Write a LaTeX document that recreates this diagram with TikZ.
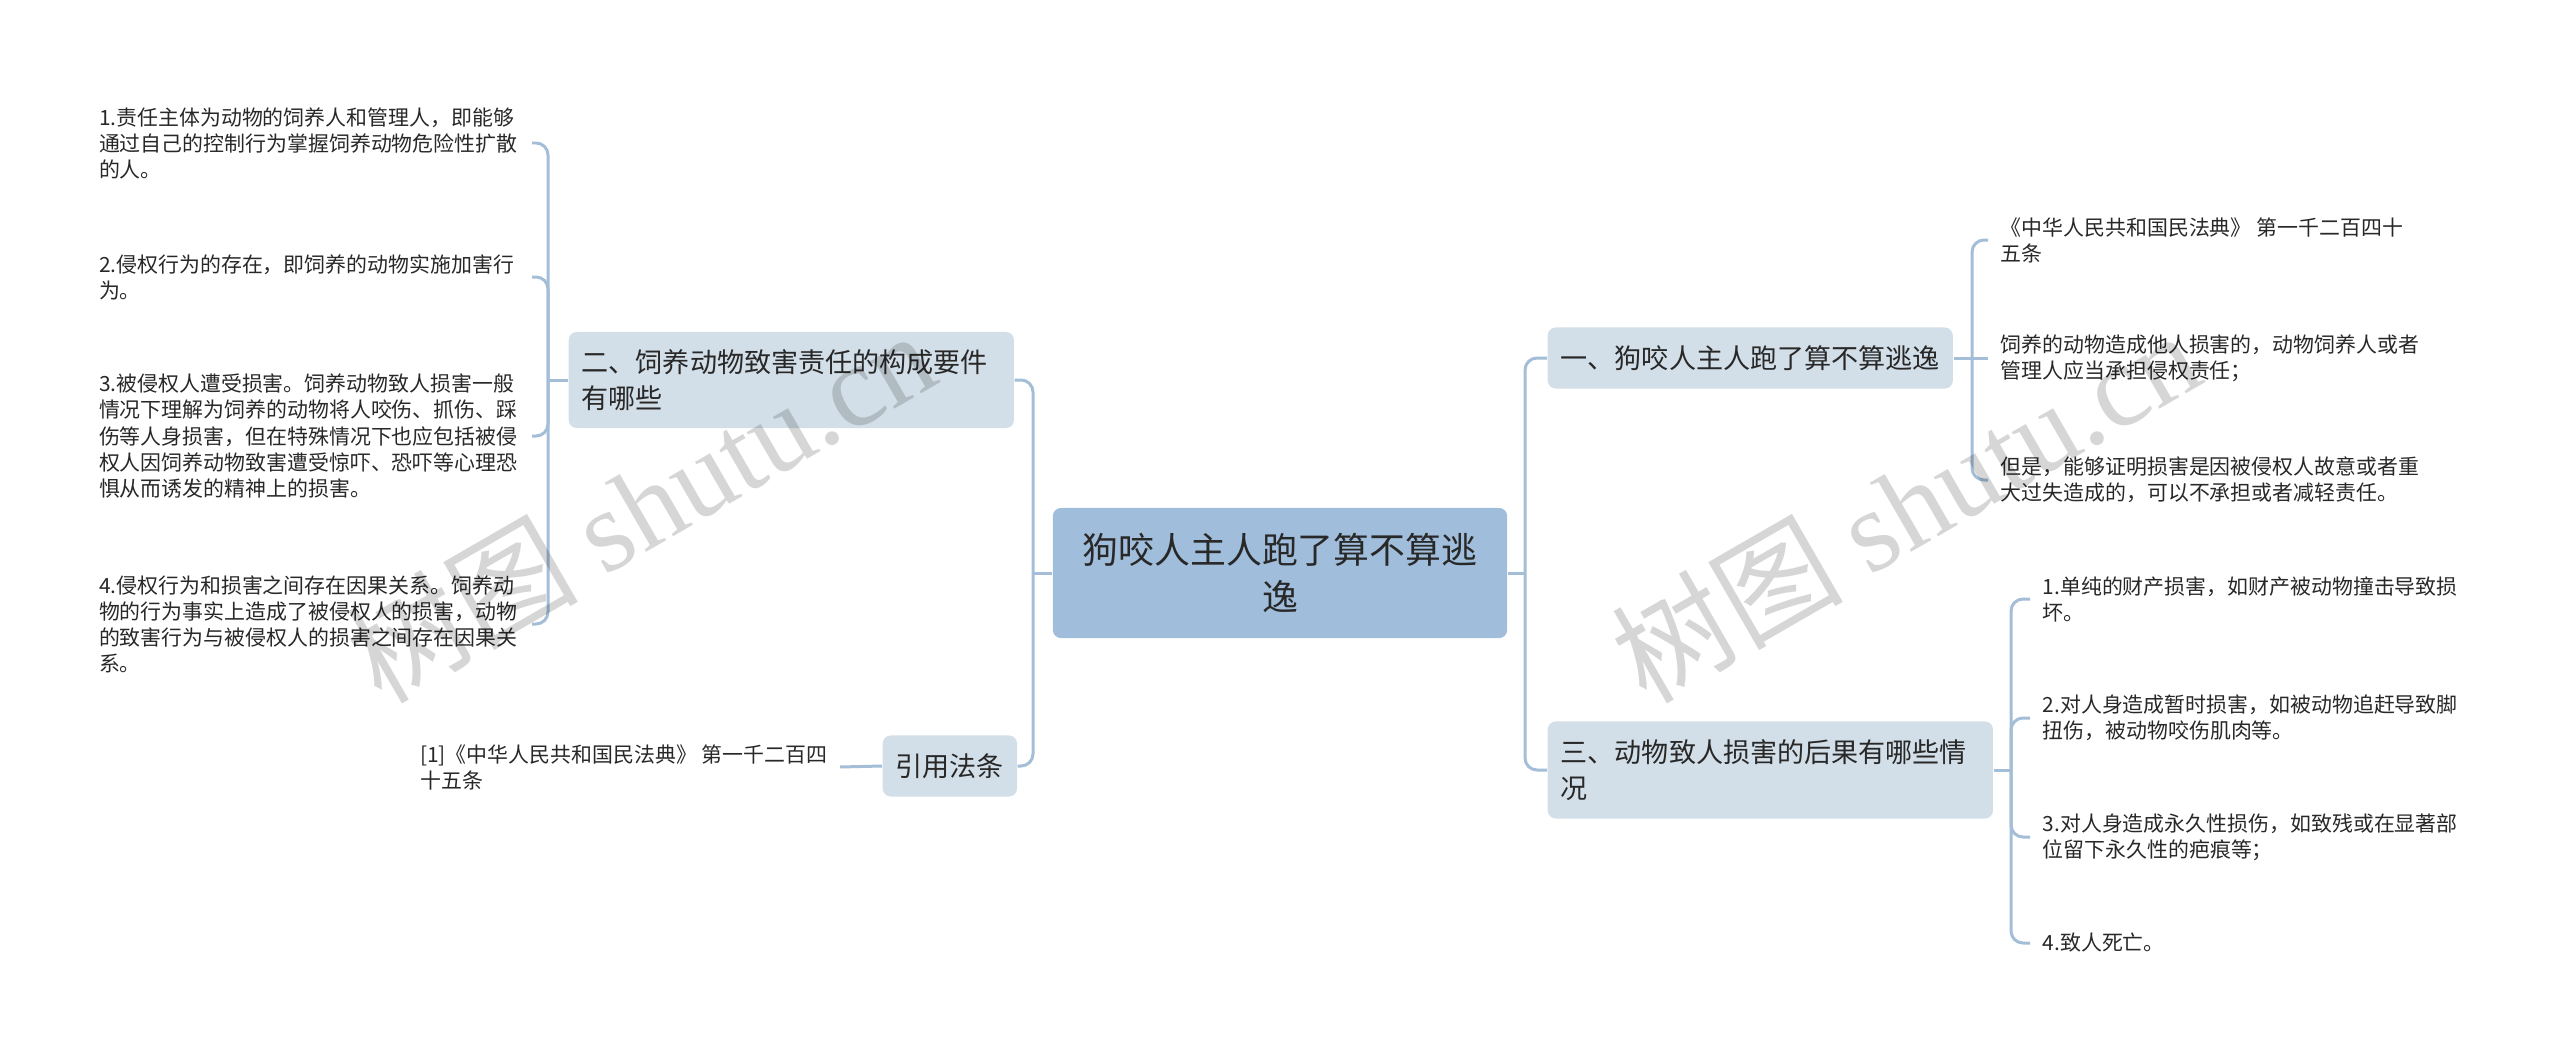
\documentclass[tikz,border=0pt]{standalone}
\usepackage{fontspec}
\setmainfont{Noto Sans CJK SC}
\newfontfamily\wmserif{Liberation Serif}
\definecolor{rootfill}{RGB}{160,190,219}
\definecolor{topicfill}{RGB}{211,223,232}
\definecolor{linkcol}{RGB}{163,190,214}
\definecolor{ink}{RGB}{40,40,40}

\begin{document}
\begin{tikzpicture}[x=0.01cm,y=-0.01cm,
  root/.style={fill=rootfill,rounded corners=0.08cm,text=ink,align=center,minimum width=4.54cm,minimum height=1.30cm,inner sep=0pt,font=\fontsize{10.2}{13.3}\selectfont},
  topic/.style={fill=topicfill,rounded corners=0.08cm,text=ink,align=left,anchor=west,inner xsep=0.13cm,inner ysep=0pt,minimum height=0.61cm,font=\fontsize{7.7}{10.2}\selectfont},
  leaf/.style={text=ink,align=left,inner xsep=0.12cm,inner ysep=2pt,font=\fontsize{5.95}{7.4}\selectfont},
  link/.style={draw=linkcol,line width=0.85pt,rounded corners=0.12cm},
  wm/.style={text=black,text opacity=0.16,rotate=30,font=\fontsize{33}{33}\selectfont}]
\useasboundingbox (0,0) rectangle (2560,1057);

\node[root] (main) at (1280,573) {狗咬人主人跑了算不算逃\\逸};

\node[topic] (q1) at (1547,358) {一、狗咬人主人跑了算不算逃逸};
\node[topic,text width=4.19cm,minimum height=0.96cm] (q2) at (568,380) {二、饲养动物致害责任的构成要件\\有哪些};
\node[topic,text width=4.19cm,minimum height=0.97cm] (q3) at (1547,770) {三、动物致人损害的后果有哪些情\\况};
\node[topic] (cite) at (882,766) {引用法条};

\node[leaf,anchor=east,text width=4.2cm] (q2a) at (532,143) {1.责任主体为动物的饲养人和管理人，即能够\\通过自己的控制行为掌握饲养动物危险性扩散\\的人。};
\node[leaf,anchor=east,text width=4.2cm] (q2b) at (532,277) {2.侵权行为的存在，即饲养的动物实施加害行\\为。};
\node[leaf,anchor=east,text width=4.2cm] (q2c) at (532,436) {3.被侵权人遭受损害。饲养动物致人损害一般\\情况下理解为饲养的动物将人咬伤、抓伤、踩\\伤等人身损害，但在特殊情况下也应包括被侵\\权人因饲养动物致害遭受惊吓、恐吓等心理恐\\惧从而诱发的精神上的损害。};
\node[leaf,anchor=east,text width=4.2cm] (q2d) at (532,624) {4.侵权行为和损害之间存在因果关系。饲养动\\物的行为事实上造成了被侵权人的损害，动物\\的致害行为与被侵权人的损害之间存在因果关\\系。};
\node[leaf,anchor=east] (citea) at (840,767) {[1]《中华人民共和国民法典》 第一千二百四\\十五条};

\node[leaf,anchor=west] (q1a) at (1988,240) {《中华人民共和国民法典》 第一千二百四十\\五条};
\node[leaf,anchor=west] (q1b) at (1988,358) {饲养的动物造成他人损害的，动物饲养人或者\\管理人应当承担侵权责任；};
\node[leaf,anchor=west] (q1c) at (1988,480) {但是，能够证明损害是因被侵权人故意或者重\\大过失造成的，可以不承担或者减轻责任。};

\node[leaf,anchor=west] (q3a) at (2030,599) {1.单纯的财产损害，如财产被动物撞击导致损\\坏。};
\node[leaf,anchor=west] (q3b) at (2030,718) {2.对人身造成暂时损害，如被动物追赶导致脚\\扭伤，被动物咬伤肌肉等。};
\node[leaf,anchor=west] (q3c) at (2030,837) {3.对人身造成永久性损伤，如致残或在显著部\\位留下永久性的疤痕等；};
\node[leaf,anchor=west] (q3d) at (2030,943) {4.致人死亡。};

\coordinate (jl) at (1033,573);
\coordinate (jr) at (1525,573);
\coordinate (j1) at (1972,358);
\coordinate (j2) at (548,380);
\coordinate (j3) at (2011,770);

\draw[link] (main.west) -- (jl);
\draw[link] (jl) |- (q2.east);
\draw[link] (jl) |- (cite.east);
\draw[link] (main.east) -- (jr);
\draw[link] (jr) |- (q1.west);
\draw[link] (jr) |- (q3.west);

\draw[link] (q2.west) -- (j2);
\draw[link] (j2) |- (q2a.east);
\draw[link] (j2) |- (q2b.east);
\draw[link] (j2) |- (q2c.east);
\draw[link] (j2) |- (q2d.east);
\draw[link] (cite.west) -- (citea.east);

\draw[link] (q1.east) -- (j1);
\draw[link] (j1) |- (q1a.west);
\draw[link] (j1) -- (q1b.west);
\draw[link] (j1) |- (q1c.west);

\draw[link] (q3.east) -- (j3);
\draw[link] (j3) |- (q3a.west);
\draw[link] (j3) |- (q3b.west);
\draw[link] (j3) |- (q3c.west);
\draw[link] (j3) |- (q3d.west);

\node[wm] (wmL) at (640,505) {树图 {\wmserif shutu.cn}};
\node[wm] (wmR) at (1905,505) {树图 {\wmserif shutu.cn}};
\end{tikzpicture}
\end{document}
